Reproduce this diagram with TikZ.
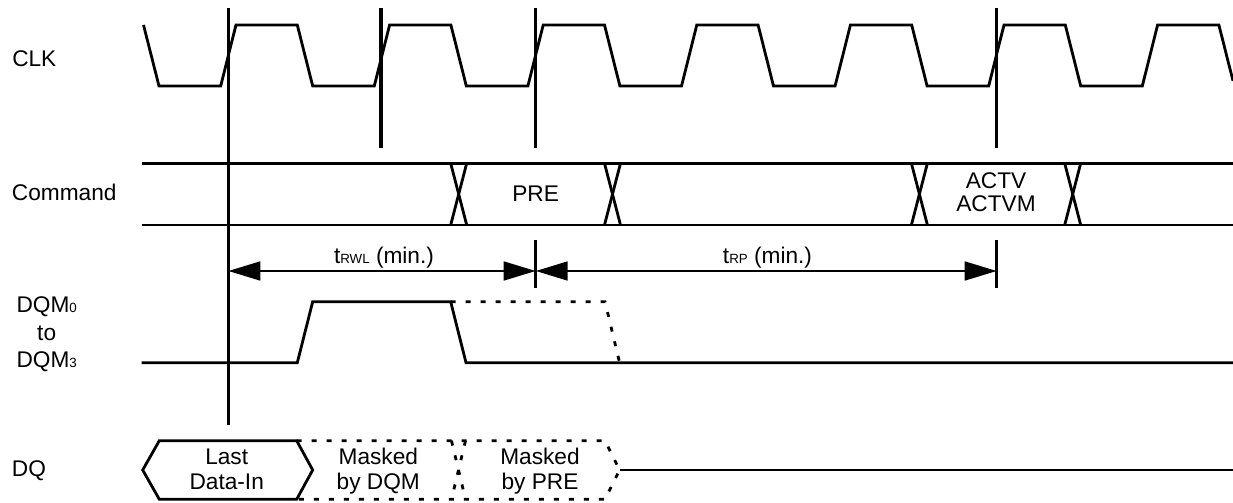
\documentclass[tikz,border=0pt]{standalone}
\usepackage{fontspec}
\setmainfont{Liberation Sans}
\usetikzlibrary{arrows.meta}
\newcommand\subtxt[1]{{\fontsize{10}{12}\selectfont #1}}
\begin{document}
\begin{tikzpicture}[x=0.75pt,y=-0.75pt,
  every node/.style={font=\fontsize{17}{20}\selectfont, inner sep=0pt},
  sig/.style={line width=2.1pt, line join=miter},
  dsh/.style={line width=2.1pt, dash pattern=on 3.75pt off 7.5pt},
  marker/.style={line width=2.4pt},
  dim/.style={line width=2.1pt, {Triangle[length=24pt,width=14pt]}-{Triangle[length=24pt,width=14pt]}}]
\useasboundingbox (0,0) rectangle (1233,503);

% labels
\node[anchor=base west] (lclk) at (12,66.7) {CLK};
\node[anchor=base west] (lcmd) at (11.7,200.7) {Command};
\node[anchor=base] (ldqm0) at (46.7,312) {DQM\subtxt{0}};
\node[anchor=base] (lto) at (46.7,340) {to};
\node[anchor=base] (ldqm3) at (46.7,367) {DQM\subtxt{3}};
\node[anchor=base west] (ldq) at (11.7,476.7) {DQ};

% CLK waveform
\draw[sig] (143.5,25) -- (159,86)
  \foreach \k in {0,...,5}{ -- ({220.7+153.6*\k},86) -- ({236+153.6*\k},25) -- ({297.3+153.6*\k},25) -- ({312.7+153.6*\k},86) }
  -- (1142.3,86) -- (1157.6,25) -- (1218.9,25) -- (1233,80.9);

% reference marker lines
\coordinate (v0t) at (228.3,8);   \coordinate (v0b) at (228.3,425);
\coordinate (v1t) at (381,8);     \coordinate (v1b) at (381,148);
\coordinate (v2t) at (535.7,8);   \coordinate (v2b) at (535.7,148);
\coordinate (v2u) at (535.7,240); \coordinate (v2d) at (535.7,288);
\coordinate (v3t) at (996.7,8);   \coordinate (v3b) at (996.7,148);
\coordinate (v3u) at (996.7,240); \coordinate (v3d) at (996.7,288);
\draw[marker] (v0t) -- (v0b);
\draw[marker] (v1t) -- (v1b);
\draw[marker] (v2t) -- (v2b);
\draw[marker] (v2u) -- (v2d);
\draw[marker] (v3t) -- (v3b);
\draw[marker] (v3u) -- (v3d);

% Command bus
\draw[sig] (141.7,163.3) -- (1233,163.3);
\draw[sig] (141.7,225) -- (1233,225);
\foreach \c in {458.7,612.5,919.4,1072.7}{
  \draw[sig] ({\c-8},163.3) -- ({\c+8},225);
  \draw[sig] ({\c+8},163.3) -- ({\c-8},225);
}
\node[anchor=base] (pre) at (535.6,201.5) {PRE};
\node[anchor=base] (actv) at (996,188.3) {ACTV};
\node[anchor=base] (actvm) at (996,211.7) {ACTVM};

% timing dimensions
\coordinate (a0) at (228.3,271);
\coordinate (a1) at (535.7,271);
\coordinate (a2) at (996.7,271);
\draw[dim] (a0) -- (a1);
\draw[dim] (a1) -- (a2);
\node[anchor=base] (trwl) at (384,263.3) {t\subtxt{RWL} (min.)};
\node[anchor=base] (trp) at (767.5,263.3) {t\subtxt{RP} (min.)};

% DQM waveform
\draw[sig] (141.7,362.7) -- (297.3,362.7) -- (312.7,301.7) -- (450.7,301.7) -- (466,362.7) -- (1233,362.7);
\draw[dsh] (450.7,301.7) -- (605,301.7) -- (619.6,362.7);

% DQ bus
\draw[sig] (142.7,470) -- (159.3,440.7) -- (296.7,440.7) -- (312.7,470) -- (296.7,499.3) -- (159.3,499.3) -- cycle;
\draw[dsh] (296.7,440.7) -- (605,440.7) -- (619.6,470) -- (605,499.3) -- (296.7,499.3);
\draw[dsh] (451.5,440.7) -- (465.5,499.3);
\draw[dsh] (465.5,440.7) -- (451.5,499.3);
\draw[sig] (619.6,470) -- (1233,470);

\node[anchor=base] (last) at (226.7,464.3) {Last};
\node[anchor=base] (datain) at (226.7,489) {Data-In};
\node[anchor=base] (mask1) at (378.3,464.3) {Masked};
\node[anchor=base] (bydqm) at (378.3,489) {by DQM};
\node[anchor=base] (mask2) at (540,464.3) {Masked};
\node[anchor=base] (bypre) at (540,489) {by PRE};
\end{tikzpicture}
\end{document}
